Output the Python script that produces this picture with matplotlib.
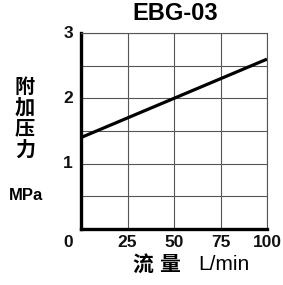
import numpy as np
import matplotlib
matplotlib.use("Agg")
import matplotlib.pyplot as plt

# data
flow = [0, 100]
pressure = [1.4, 2.6]
x_ticks = [25, 50, 75, 100]
y_ticks = [1, 2, 3]

W, H = 283, 285

def fx(px):
	return px / W

def fy(py):
	return 1 - py / H

fig = plt.figure(figsize=(W / 100, H / 100), dpi=100)
ax = fig.add_axes([fx(81), fy(229), fx(267) - fx(81), fy(33) - fy(229)])

ax.plot(flow, pressure, color="black", lw=2.3, solid_capstyle="butt", clip_on=False)

ax.set_xlim(0, 100)
ax.set_ylim(0, 3)
ax.set_xticks(np.arange(0, 101, 25))
ax.set_yticks(np.arange(0, 3.01, 0.5))
ax.set_xticklabels([])
ax.set_yticklabels([])
ax.tick_params(length=0)
ax.grid(True, color="#555555", lw=0.8)

for s in ["left", "bottom"]:
	ax.spines[s].set_linewidth(2.4)
	ax.spines[s].set_color("black")
for s in ["top", "right"]:
	ax.spines[s].set_linewidth(0.8)
	ax.spines[s].set_color("#555555")

num = dict(family="Liberation Sans", weight="bold", fontsize=12.5, color="#111111")
for v in x_ticks:
	ax.text(v, -0.2, str(v), ha="center", va="center", **num)
ax.text(-7, -0.2, "0", ha="center", va="center", **num)
for v in y_ticks:
	ax.text(-7, v, str(v), ha="center", va="center", **num)

fig.text(fx(175), fy(14), "EBG-03", ha="center", va="center",
	family="Liberation Sans", weight="bold", fontsize=17)

cjk = ["Noto Sans CJK SC", "DejaVu Sans"]
for ch, py in zip("附加压力", [86, 107, 128, 149]):
	fig.text(fx(25), fy(py), ch, ha="center", va="center", family=cjk, weight="bold", fontsize=14.5)
fig.text(fx(26), fy(195), "MPa", ha="center", va="center",
	family="Liberation Sans", weight="bold", fontsize=12)

fig.text(fx(143), fy(264), "流", ha="center", va="center", family=cjk, weight="bold", fontsize=15)
fig.text(fx(170), fy(264), "量", ha="center", va="center", family=cjk, weight="bold", fontsize=15)
fig.text(fx(224), fy(264), "L/min", ha="center", va="center",
	family="Liberation Sans", fontsize=15)

fig.savefig("out.png", dpi=100)
